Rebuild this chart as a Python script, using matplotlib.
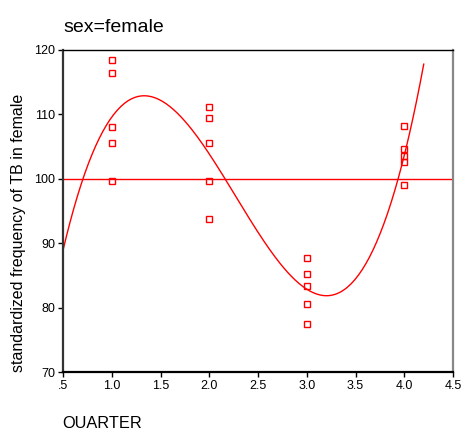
import numpy as np
import matplotlib
matplotlib.use("Agg")
import matplotlib.pyplot as plt

plt.rcParams['font.family'] = ['Liberation Sans', 'DejaVu Sans']

quarter = [1]*5 + [2]*5 + [3]*5 + [4]*5
values = [118.4, 116.4, 108.0, 105.5, 99.6,
          111.1, 109.4, 105.5, 99.6, 93.7,
          87.7, 85.2, 83.4, 80.5, 77.5,
          108.2, 104.7, 103.5, 102.6, 99.1]
ref_value = 100
xticks = [0.5, 1.0, 1.5, 2.0, 2.5, 3.0, 3.5, 4.0, 4.5]
xticklabels = ['.5', '1.0', '1.5', '2.0', '2.5', '3.0', '3.5', '4.0', '4.5']
yticks = [70, 80, 90, 100, 110, 120]

fig = plt.figure(figsize=(4.69, 4.28), dpi=100)
ax = fig.add_axes([63/469, 1-372/428, (453-63)/469, (372-50)/428])

red = '#ff0000'
ax.axhline(ref_value, color=red, lw=1.0)

coef = np.polyfit(quarter, values, 3)
xs = np.linspace(0.5, 4.2, 200)
ax.plot(xs, np.polyval(coef, xs), color=red, lw=1.0)

ax.plot(quarter, values, linestyle='none', marker='s', markersize=4.5,
        markerfacecolor='none', markeredgecolor=red, markeredgewidth=1.0)

ax.set_xlim(0.5, 4.5)
ax.set_ylim(70, 120)
ax.set_xticks(xticks)
ax.set_xticklabels(xticklabels)
ax.set_yticks(yticks)
ax.tick_params(axis='both', direction='out', length=3.5, width=1, labelsize=9, pad=2, colors='black')

ax.spines['left'].set_color('#333333')
ax.spines['left'].set_linewidth(1.6)
ax.spines['bottom'].set_color('black')
ax.spines['bottom'].set_linewidth(1.6)
ax.spines['top'].set_color('black')
ax.spines['top'].set_linewidth(1.0)
ax.spines['right'].set_color('#888888')
ax.spines['right'].set_linewidth(1.6)

fig.text(63/469, 1-31.5/428, 'sex=female', fontsize=14, ha='left', va='baseline')
fig.text(19/469, 1-233/428, 'standardized frequency of TB in female', fontsize=11.5,
         rotation=90, ha='center', va='center')
fig.text(62/469, 1-428/428, 'QUARTER', fontsize=11.8, ha='left', va='baseline')

fig.savefig('out.png', dpi=100)
